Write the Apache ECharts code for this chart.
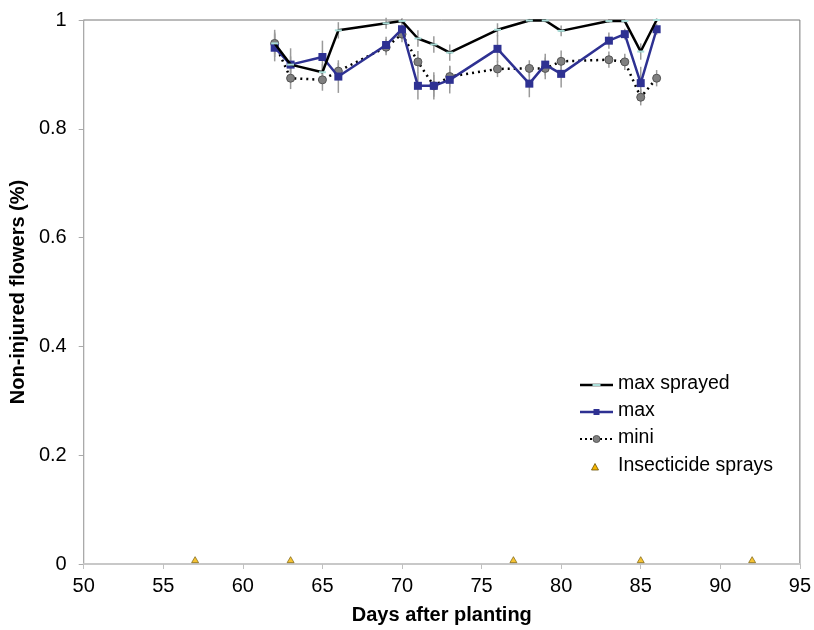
<!DOCTYPE html>
<html>
<head>
<meta charset="utf-8">
<script src="https://cdn.jsdelivr.net/npm/echarts@6/dist/echarts.min.js"></script>
<style>html,body{margin:0;padding:0;background:#fff;}#c{width:814px;height:630px;}</style>
</head>
<body>
<div id="c"></div>
<script>
const days = [62,63,65,66,69,70,71,72,73,76,78,79,80,83,84,85,86];
const maxSprayed = [0.957,0.918,0.904,0.981,0.994,0.998,0.966,0.955,0.940,0.982,0.999,0.999,0.980,0.998,0.998,0.942,1.0];
const maxVals = [0.949,0.918,0.932,0.896,0.954,0.983,0.879,0.879,0.890,0.947,0.883,0.918,0.901,0.962,0.974,0.884,0.983];
const miniVals = [0.957,0.893,0.890,0.906,0.950,0.974,0.923,0.879,0.896,0.910,0.911,0.911,0.924,0.927,0.923,0.858,0.893];
const sprayedErr = [0.02,0.015,0.015,0.015,0.01,0.005,0.015,0.015,0.015,0.012,0.003,0.003,0.01,0.003,0.003,0.015,0.003];
const maxErr = [0.025,0.03,0.03,0.03,0.015,0.015,0.025,0.025,0.025,0.025,0.025,0.02,0.025,0.015,0.01,0.03,0.01];
const miniErr = [0.025,0.02,0.02,0.015,0.015,0.015,0.02,0.02,0.02,0.015,0.015,0.02,0.02,0.015,0.015,0.015,0.015];
const sprayDays = [57,63,77,85,92];
const sprayLevel = [0.008,0.008,0.008,0.008,0.008];
const xTicks = [50,55,60,65,70,75,80,85,90,95];
const yTicks = [0,0.2,0.4,0.6,0.8,1];
const legendNames = ['max sprayed','max','mini','Insecticide sprays'];

const font = 'Liberation Sans, Arial, sans-serif';
const BLUE = '#2e3192';
function pairs(xs, ys){ return xs.map((x,i)=>[x, ys[i]]); }
function errData(ys, es){ return days.map((d,i)=>[d, ys[i]-es[i], ys[i]+es[i]]); }
function errSeries(ys, es){
  return {
    type:'custom', silent:true, z:1,
    data: errData(ys, es),
    renderItem: function(params, api){
      const lo = api.coord([api.value(0), api.value(1)]);
      const hi = api.coord([api.value(0), api.value(2)]);
      return {type:'line', shape:{x1:lo[0],y1:lo[1],x2:hi[0],y2:hi[1]}, style:{stroke:'#9a9a9a', lineWidth:1.5}};
    }
  };
}

// Legend drawn as graphic (icons + real text)
const LX = 580, LW = 33, TX = 618;
const rowsY = [385, 412, 439, 467];
const legendGraphics = [];
function txt(y, s){
  legendGraphics.push({type:'text', left:TX, top:y-11, style:{text:s, font:'19.5px ' + font, fill:'#000'}});
}
// row 1
legendGraphics.push({type:'line', shape:{x1:LX,y1:rowsY[0],x2:LX+LW,y2:rowsY[0]}, style:{stroke:'#000', lineWidth:2.5}});
legendGraphics.push({type:'rect', shape:{x:LX+LW/2-4,y:rowsY[0]-1,width:8,height:2}, style:{fill:'#a9ddd8'}});
txt(rowsY[0], legendNames[0]);
// row 2
legendGraphics.push({type:'line', shape:{x1:LX,y1:rowsY[1],x2:LX+LW,y2:rowsY[1]}, style:{stroke:BLUE, lineWidth:2.5}});
legendGraphics.push({type:'rect', shape:{x:LX+LW/2-3,y:rowsY[1]-3,width:6,height:6}, style:{fill:BLUE}});
txt(rowsY[1], legendNames[1]);
// row 3
legendGraphics.push({type:'line', shape:{x1:LX,y1:rowsY[2],x2:LX+LW,y2:rowsY[2]}, style:{stroke:'#000', lineWidth:2, lineDash:[2,3]}});
legendGraphics.push({type:'circle', shape:{cx:LX+LW/2,cy:rowsY[2],r:3.5}, style:{fill:'#808080', stroke:'#555', lineWidth:1}});
txt(rowsY[2], legendNames[2]);
// row 4
legendGraphics.push({type:'polygon', shape:{points:[[595,rowsY[3]-3.5],[598.5,rowsY[3]+3],[591.5,rowsY[3]+3]]}, style:{fill:'#f4b400', stroke:'#6b5200', lineWidth:0.8}});
txt(rowsY[3], legendNames[3]);

const chart = echarts.init(document.getElementById('c'), null, {renderer:'canvas'});
chart.setOption({
  animation:false,
  backgroundColor:'#fff',
  grid:{left:83, right:11, top:20, bottom:62, show:true, borderColor:'#777', borderWidth:1},
  xAxis:{
    type:'value', min:xTicks[0], max:xTicks[xTicks.length-1], interval:5,
    name:'Days after planting', nameLocation:'middle', nameGap:41,
    nameTextStyle:{fontFamily:font, fontSize:20, fontWeight:'bold', color:'#000'},
    axisLine:{show:true, onZero:false, lineStyle:{color:'#c8c8c8', width:2}},
    axisTick:{show:true, length:5, lineStyle:{color:'#c0c0c0'}},
    axisLabel:{fontFamily:font, fontSize:20, color:'#000', margin:12},
    splitLine:{show:false}
  },
  yAxis:{
    type:'value', min:yTicks[0], max:yTicks[yTicks.length-1], interval:0.2,
    name:'Non-injured flowers (%)', nameLocation:'middle', nameGap:47,
    nameTextStyle:{fontFamily:font, fontSize:20, fontWeight:'bold', color:'#000'},
    axisLine:{show:true, onZero:false, lineStyle:{color:'#aaaaaa', width:1}},
    axisTick:{show:true, length:5, lineStyle:{color:'#aaaaaa'}},
    axisLabel:{fontFamily:font, fontSize:20, color:'#000', margin:17, formatter:v=>String(Math.round(v*10)/10)},
    splitLine:{show:false}
  },
  graphic: legendGraphics,
  series:[
    errSeries(maxSprayed, sprayedErr),
    errSeries(maxVals, maxErr),
    errSeries(miniVals, miniErr),
    {
      name:'mini', type:'line', z:3, data:pairs(days, miniVals),
      symbol:'circle', symbolSize:8,
      itemStyle:{color:'#808080', borderColor:'#555', borderWidth:1},
      lineStyle:{color:'#000', width:2.5, type:[2,4]}
    },
    {
      name:'max', type:'line', z:4, data:pairs(days, maxVals),
      symbol:'rect', symbolSize:8,
      itemStyle:{color:BLUE},
      lineStyle:{color:BLUE, width:2.5}
    },
    {
      name:'max sprayed', type:'line', z:5, data:pairs(days, maxSprayed),
      symbol:'rect', symbolSize:[7,2],
      itemStyle:{color:'#a9ddd8'},
      lineStyle:{color:'#000', width:2.5}
    },
    {
      name:'Insecticide sprays', type:'scatter', z:6, data:pairs(sprayDays, sprayLevel),
      symbol:'triangle', symbolSize:[7,6],
      itemStyle:{color:'#f4b400', borderColor:'#6b5200', borderWidth:0.8}
    }
  ]
});
</script>
</body>
</html>
